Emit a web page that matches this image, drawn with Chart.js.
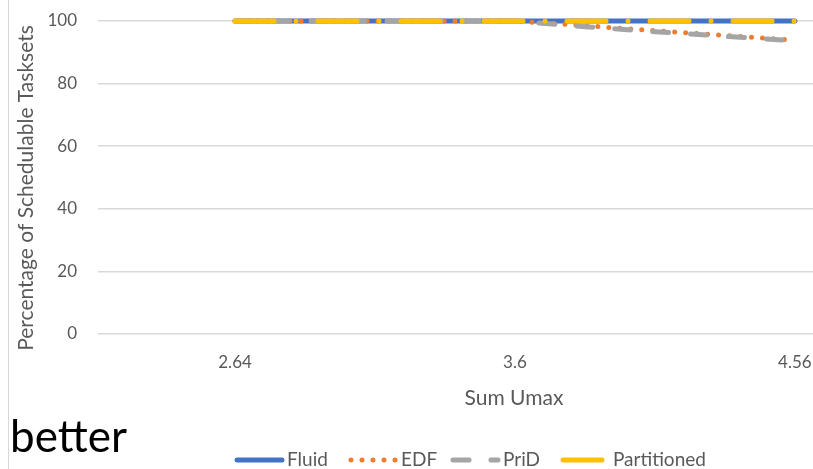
<!DOCTYPE html>
<html>
<head>
<meta charset="utf-8">
<script src="https://cdn.jsdelivr.net/npm/chart.js@4.4.1/dist/chart.umd.min.js"></script>
<style>
  body { margin: 0; background: #fff; }
  #wrap { position: relative; width: 813px; height: 469px; overflow: hidden; }
  #frame { position: absolute; left: 8px; top: 0; width: 0; height: 469px; border-left: 1px solid #d9d9d9; }
  #note { position: absolute; left: 10px; top: 413px; font-family: Lato, sans-serif; font-size: 44px; color: #000; line-height: 1; }
</style>
</head>
<body>
<div id="wrap">
  <canvas id="chart" width="813" height="469"></canvas>
  <div id="frame"></div>
  <div id="note">better</div>
</div>
<script>
const xValues = [2.64, 2.88, 3.12, 3.36, 3.6, 3.84, 4.08, 4.32, 4.56];
const xTickLabels = [2.64, 3.6, 4.56];
const seriesNames = ["Fluid", "EDF", "PriD", "Partitioned"];
const fluid = [100, 100, 100, 100, 100, 100, 100, 100, 100];
const edf = [100, 100, 100, 100, 100, 98.5, 96.9, 95.4, 93.9];
const prid = [100, 100, 100, 100, 100, 98.2, 96.6, 95.1, 93.7];
const partitioned = [100, 100, 100, 100, 100, 100, 100, 100, 100];
const xTitle = "Sum Umax";
const yTitle = "Percentage of Schedulable Tasksets";

const colors = ["#4472C4", "#ED7D31", "#A5A5A5", "#FFC000"];
const dashes = [[], [0, 11], [16, 22], [39, 22, 0, 22]];
const seriesValues = [fluid, edf, prid, partitioned];
const textColor = "#595959";
const legendX = [237, 351, 453, 563];

const datasets = seriesValues.map((vals, i) => ({
  label: seriesNames[i],
  data: vals.map((v, j) => ({ x: xValues[j], y: v })),
  borderColor: colors[i],
  backgroundColor: colors[i],
  borderWidth: 5,
  borderDash: dashes[i],
  borderCapStyle: "round",
  borderJoinStyle: "round",
  pointRadius: 0,
  tension: 0,
  clip: false,
  order: 3 - i
}));

// legend + axis titles drawn by hand (Excel puts them off-centre)
const extras = {
  id: "extras",
  afterDraw(chart) {
    const ctx = chart.ctx;
    ctx.save();
    ctx.fillStyle = textColor;
    ctx.textBaseline = "middle";
    ctx.textAlign = "center";
    ctx.font = "21px Lato, sans-serif";
    ctx.fillText(xTitle, 514, 398);
    ctx.save();
    ctx.translate(26, 188);
    ctx.rotate(-Math.PI / 2);
    ctx.fillText(yTitle, 0, 0);
    ctx.restore();

    ctx.textAlign = "left";
    ctx.font = "19px Lato, sans-serif";
    const y = 460;
    chart.data.datasets.forEach((ds, i) => {
      const x = legendX[i];
      ctx.strokeStyle = ds.borderColor;
      ctx.lineWidth = 5;
      ctx.lineCap = "round";
      ctx.setLineDash(ds.borderDash);
      ctx.beginPath();
      ctx.moveTo(x, y);
      ctx.lineTo(x + 45, y);
      ctx.stroke();
      ctx.setLineDash([]);
      ctx.fillStyle = textColor;
      ctx.fillText(ds.label, x + 50, y);
    });
    ctx.restore();
  }
};

new Chart(document.getElementById("chart"), {
  type: "line",
  data: { datasets },
  options: {
    responsive: false,
    animation: false,
    layout: { autoPadding: false, padding: { left: 10, top: 21, right: 0, bottom: 55 } },
    plugins: { legend: { display: false }, tooltip: { enabled: false } },
    scales: {
      x: {
        type: "linear",
        min: 2.17,
        max: 4.622,
        grid: { display: true, drawOnChartArea: false, color: "transparent", drawTicks: true, tickLength: 18, tickColor: "transparent" },
        border: { display: false },
        afterBuildTicks: s => { s.ticks = xTickLabels.map(v => ({ value: v })); },
        afterFit: s => { s.height = 80; },
        ticks: { color: textColor, font: { family: "Lato", size: 17 }, padding: 0, maxRotation: 0, callback: v => String(v) }
      },
      y: {
        min: 0,
        max: 100,
        ticks: { stepSize: 20, color: textColor, font: { family: "Lato", size: 17 }, padding: 0 },
        grid: { color: "#D9D9D9", lineWidth: 1.5, drawTicks: true, tickLength: 21, tickColor: "transparent" },
        border: { display: false },
        afterFit: s => { s.width = 88; }
      }
    }
  },
  plugins: [extras]
});
</script>
</body>
</html>
